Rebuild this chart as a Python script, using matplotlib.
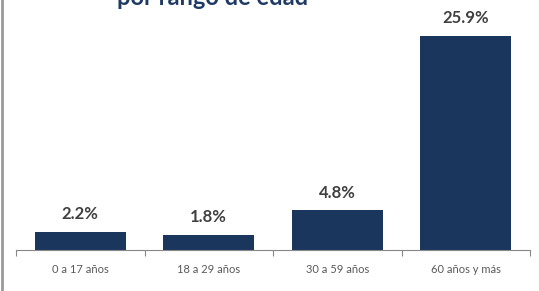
import matplotlib
matplotlib.use("Agg")
import matplotlib.pyplot as plt
import numpy as np

categories = ["0 a 17 años", "18 a 29 años", "30 a 59 años", "60 años y más"]
values = [2.2, 1.8, 4.8, 25.9]
value_labels = ["2.2%", "1.8%", "4.8%", "25.9%"]
title = "por rango de edad"

plt.rcParams["font.family"] = ["Lato", "DejaVu Sans"]

W, H = 539, 291
fig = plt.figure(figsize=(W / 100, H / 100), dpi=100)
ax = fig.add_axes([16 / W, 41 / H, 514 / W, 250 / H])

x = np.arange(len(categories))
bars = ax.bar(x, values, width=0.71, color="#1b365d")
ax.set_xlim(-0.5, len(categories) - 0.5)
ax.set_ylim(0, 30.27)

for b, lab in zip(bars, value_labels):
    ax.annotate(lab, (b.get_x() + b.get_width() / 2, b.get_height()),
                xytext=(0, 7), textcoords="offset points",
                ha="center", va="bottom", fontsize=12, fontweight="bold",
                color="#404040")

for s in ["top", "right", "left"]:
    ax.spines[s].set_visible(False)
ax.spines["bottom"].set_color("#888888")
ax.spines["bottom"].set_linewidth(0.8)
ax.set_yticks([])

# tick marks at category boundaries, labels at centers
ax.set_xticks(np.arange(-0.5, len(categories), 1.0))
ax.set_xticklabels([])
ax.tick_params(axis="x", which="major", length=4, color="#888888", direction="out")
ax.set_xticks(x, minor=True)
ax.set_xticklabels(categories, minor=True, fontsize=8, color="#595959")
ax.tick_params(axis="x", which="minor", length=0, pad=10)

fig.text(213 / W, 1 - 5 / H, title, ha="center", va="baseline",
         fontsize=17, fontweight="bold", color="#1f3a64")

# gray frame line on the left edge
fig.add_artist(plt.Line2D([1.5 / W, 1.5 / W], [0, 1], color="#9a9a9a", lw=2,
                          transform=fig.transFigure))

fig.savefig("out.png", dpi=100)
